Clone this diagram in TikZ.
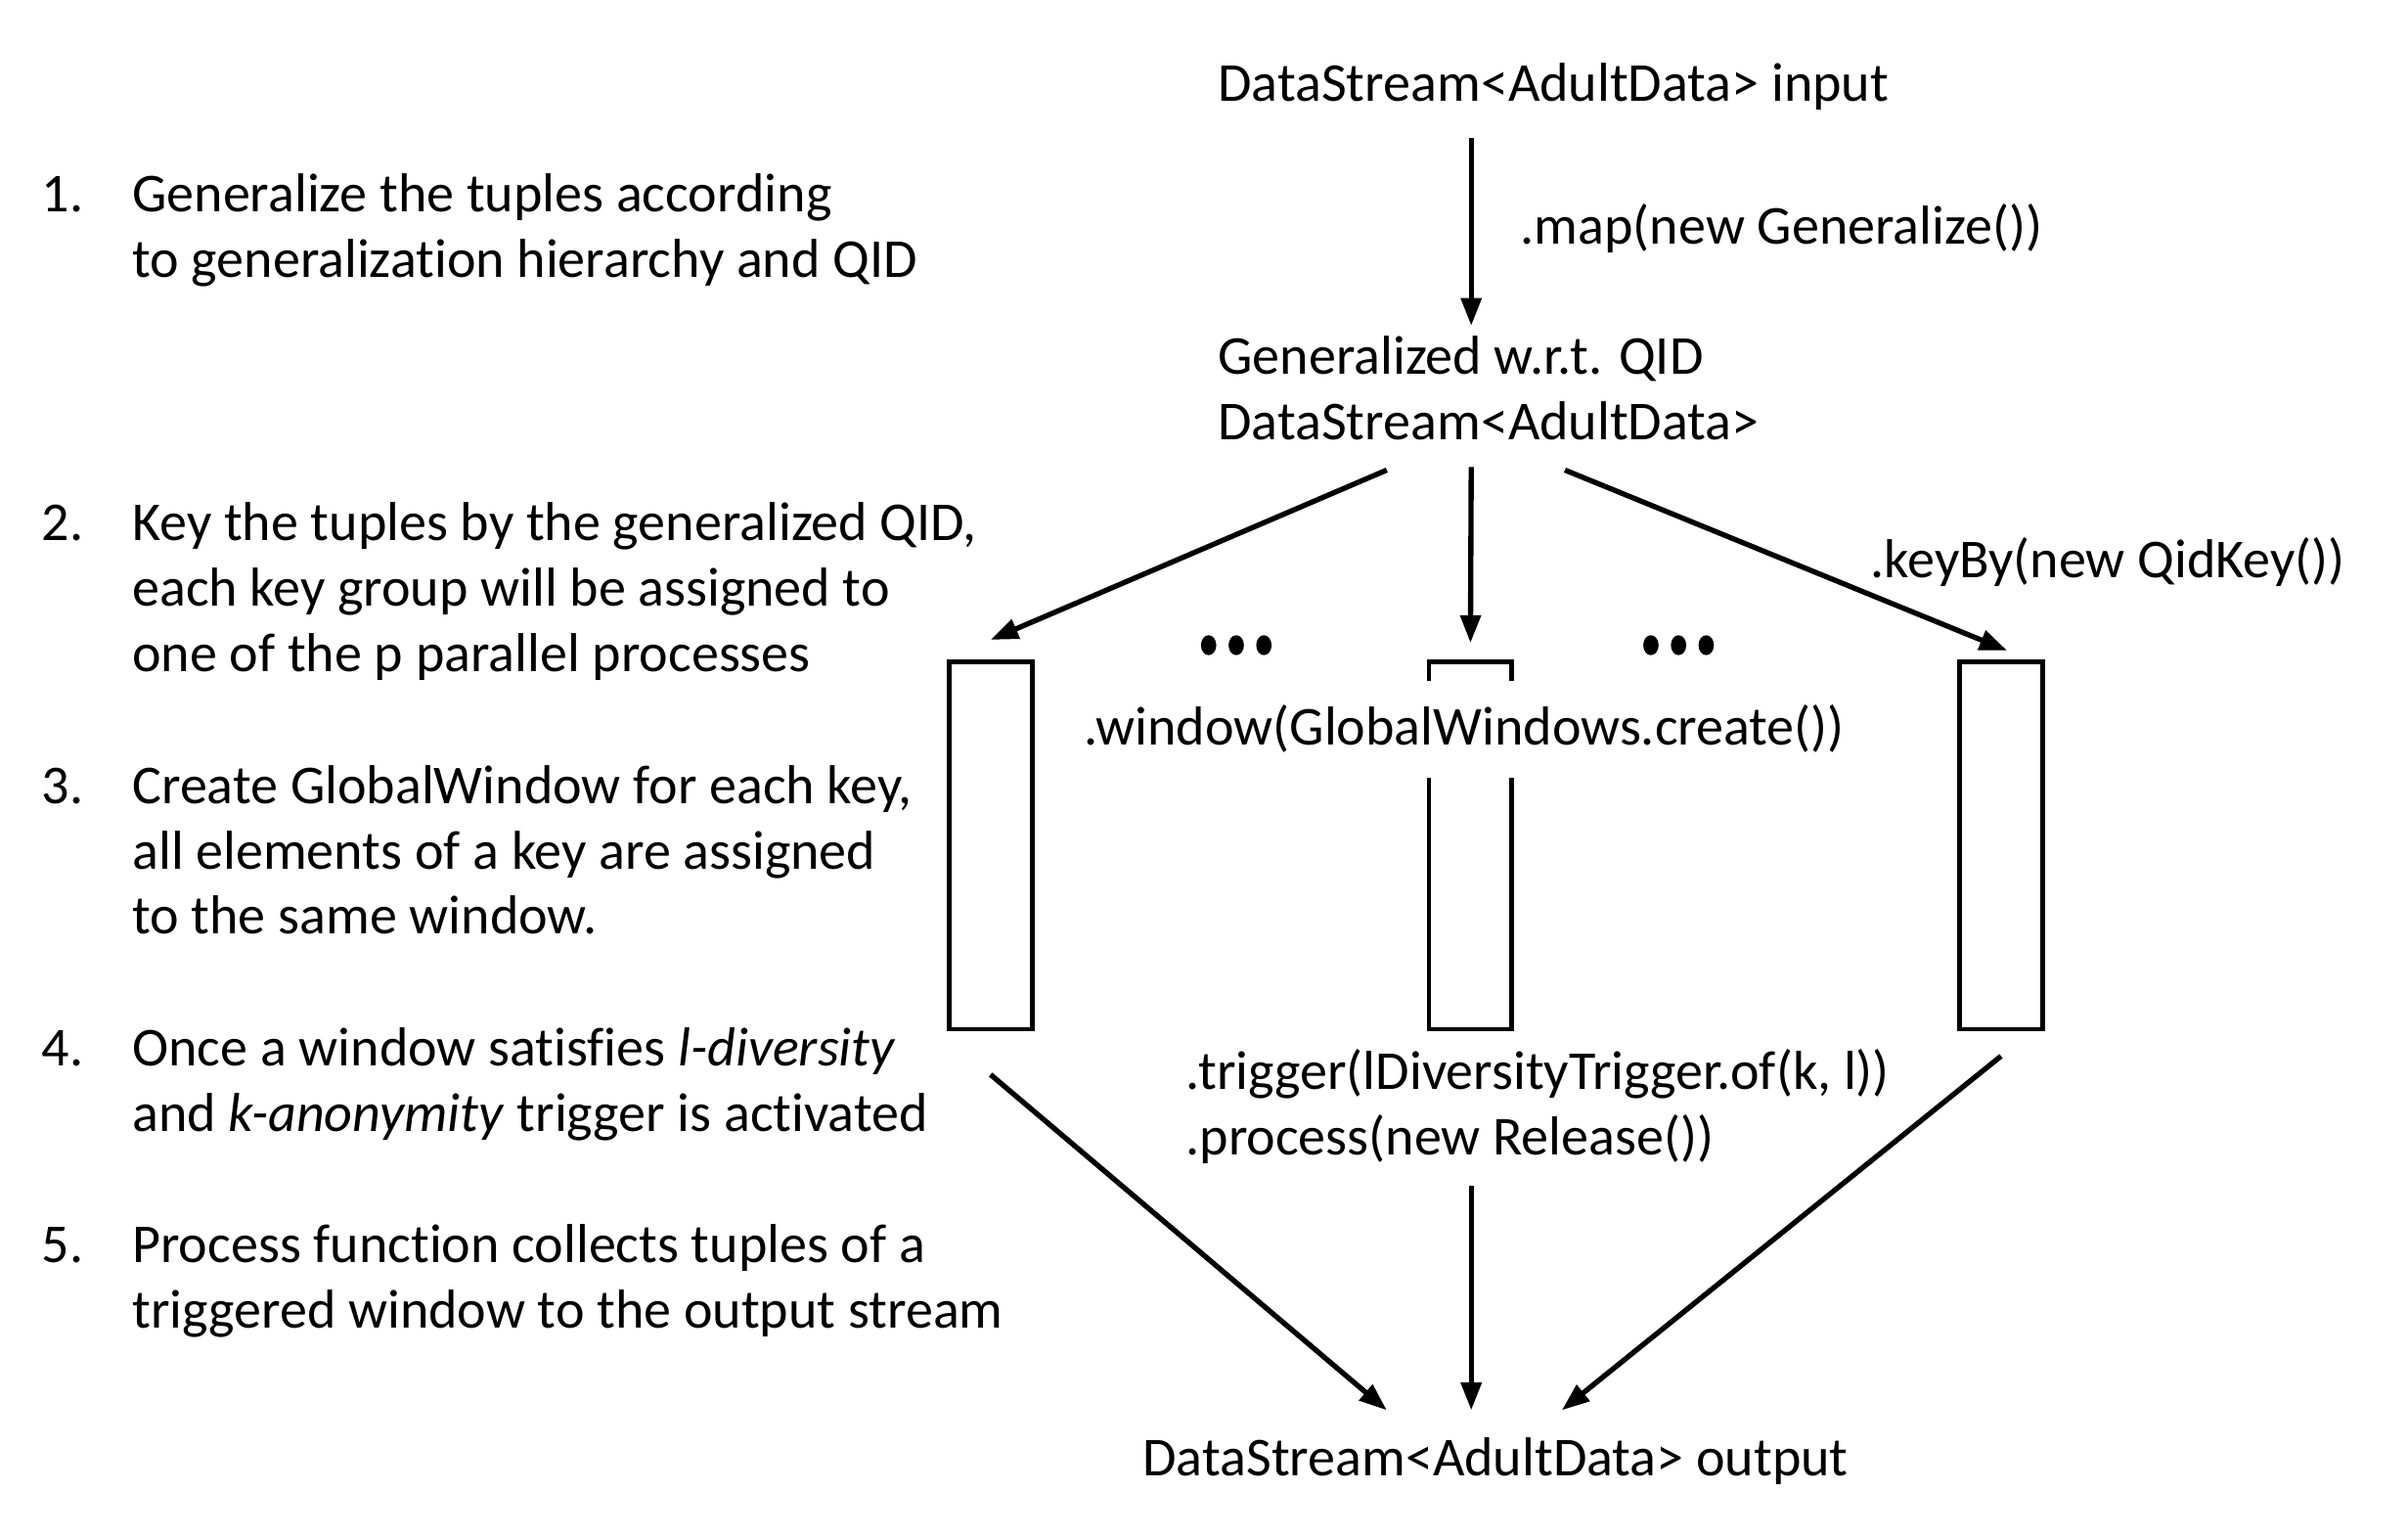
\documentclass[tikz,border=0pt]{standalone}
\usepackage{fontspec}
\setmainfont{Carlito}[Ligatures=NoCommon]
\usetikzlibrary{arrows.meta,shapes.geometric}
\begin{document}
\begin{tikzpicture}[x=1pt,y=-1pt,
  lbl/.style={inner sep=0pt, font=\fontsize{35.7}{42.6}\selectfont, align=left, anchor=base west},
  arr/.style={-{Triangle[length=18pt,width=13pt]}, line width=3.4pt},
  win/.style={draw, line width=3pt, minimum width=54pt, minimum height=239pt, inner sep=0pt},
  dot/.style={fill=black, ellipse, minimum width=10pt, minimum height=13pt, inner sep=0pt}
]
\useasboundingbox[fill=white] (0,0) rectangle (1568,999);

% left explanation list (anchor = baseline of the last line)
\node[lbl] (n1) at (27,138) {1.};
\node[lbl] (t1) at (86,180.6) {Generalize the tuples according\\to generalization hierarchy and QID};
\node[lbl] (n2) at (27,352) {2.};
\node[lbl] (t2) at (86,437.2) {Key the tuples by the generalized QID,\\each key group will be assigned to\\one of the p parallel processes};
\node[lbl] (n3) at (27,523) {3.};
\node[lbl] (t3) at (86,608.2) {Create GlobalWindow for each key,\\all elements of a key are assigned\\to the same window.};
\node[lbl] (n4) at (27,694) {4.};
\node[lbl] (t4) at (86,736.6) {Once a window satisfies \textit{l-diversity}\\and \textit{k-anonymity} trigger is activated};
\node[lbl] (n5) at (27,822) {5.};
\node[lbl] (t5) at (86,864.6) {Process function collects tuples of a\\triggered window to the output stream};

% right diagram
\node[lbl] (in) at (793,66) {DataStream<AdultData> input};
\node[lbl] (map) at (990,159) {.map(new Generalize())};
\node[lbl] (gen) at (793,286) {Generalized w.r.t. QID\\DataStream<AdultData>};
\node[lbl] (key) at (1218,376) {.keyBy(new QidKey())};

\node[win] (b1) at (645,550.5) {};
\node[win] (b2) at (957.5,550.5) {};
\node[win] (b3) at (1303,550.5) {};
\node[fill=white, inner xsep=0pt, inner ysep=0pt, minimum height=63pt, font=\fontsize{35.7}{42.6}\selectfont] (win) at (953.5,474.5) {.window(GlobalWindows.create())};

\node[dot] (d1a) at (787,420) {};
\node[dot] (d1b) at (805,420) {};
\node[dot] (d1c) at (823,420) {};
\node[dot] (d2a) at (1075,420) {};
\node[dot] (d2b) at (1093,420) {};
\node[dot] (d2c) at (1111,420) {};

\node[lbl] (trig) at (772,752) {.trigger(lDiversityTrigger.of(k, l))\\.process(new Release())};
\node[lbl] (out) at (744,961) {DataStream<AdultData> output};

% connectors
\coordinate (a0s) at (958,90);
\coordinate (a0e) at (958,212);
\draw[arr] (a0s) -- (a0e);

\coordinate (g1) at (903,306);
\coordinate (g2) at (958,304);
\coordinate (g3) at (1019,306);
\draw[arr] (g1) -- ([yshift=13pt]b1.north);
\draw[arr] (g2) -- ([yshift=11pt]b2.north);
\draw[arr] (g3) -- ([xshift=4pt,yshift=6pt]b3.north);

\coordinate (o1) at (903,918);
\coordinate (o2) at (958,918);
\coordinate (o3) at (1017,918);
\draw[arr] ([yshift=-28pt]b1.south) -- (o1);
\coordinate (p2) at (958,772);
\draw[arr] (p2) -- (o2);
\draw[arr] ([yshift=-16pt]b3.south) -- (o3);
\end{tikzpicture}
\end{document}
